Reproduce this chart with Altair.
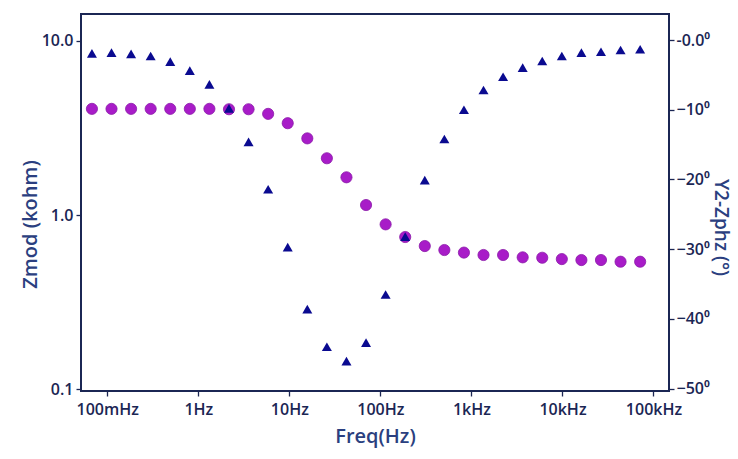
import altair as alt
import pandas as pd

# Frequency (Hz)
freq = [0.0679, 0.1114, 0.1828, 0.2999, 0.4921, 0.8075, 1.325, 2.174, 3.567, 5.853,
        9.603, 15.76, 25.85, 42.42, 69.60, 114.2, 187.4, 307.5, 504.5, 827.8,
        1358, 2228, 3656, 5998, 9842, 16150, 26500, 43470, 71330]
# Impedance modulus (kohm)
zmod = [4.06, 4.06, 4.06, 4.06, 4.06, 4.06, 4.06, 4.04, 4.04, 3.80,
        3.36, 2.75, 2.115, 1.645, 1.141, 0.884, 0.748, 0.664, 0.630, 0.609,
        0.590, 0.590, 0.572, 0.569, 0.559, 0.552, 0.552, 0.540, 0.540]
# Phase (degrees)
zphz = [-1.91, -1.82, -2.0, -2.3, -3.1, -4.4, -6.36, -9.8, -14.6, -21.4,
        -29.7, -38.6, -44.0, -46.05, -43.4, -36.5, -28.2, -20.1, -14.2, -10.0,
        -7.17, -5.27, -3.97, -3.01, -2.30, -1.82, -1.68, -1.43, -1.33]

xticks = [0.1, 1, 10, 100, 1000, 10000, 100000]
yticks_left = [0.1, 1, 10]
yticks_right = [0, -10, -20, -30, -40, -50]

df = pd.DataFrame({"freq": freq, "zmod": zmod, "zphz": zphz})

LABEL = "#1b2654"
TITLE = "#2b3f80"
FONT = "Open Sans"

xenc = alt.X("freq:Q",
             scale=alt.Scale(type="log", domain=[0.0515, 148000], nice=False),
             axis=alt.Axis(values=xticks, title="Freq(Hz)",
                           labelExpr="datum.value >= 1000 ? format(datum.value/1000,'d') + 'kHz' : (datum.value < 1 ? format(datum.value*1000,'d') + 'mHz' : format(datum.value,'d') + 'Hz')",
                           titlePadding=9, labelPadding=5))

circles = alt.Chart(df).mark_point(shape="circle", filled=True, size=125, opacity=1,
                                   color="#a81cc8", stroke="#8a1aa8", strokeWidth=0.8).encode(
    x=xenc,
    y=alt.Y("zmod:Q",
            scale=alt.Scale(type="log", domain=[0.098, 14.2], nice=False),
            axis=alt.Axis(values=yticks_left, format=".1f", title="Zmod (kohm)",
                          orient="left", titleX=-41, titleY=210, labelPadding=3))
)

tris = alt.Chart(df).mark_point(shape="triangle-up", filled=True, size=100, opacity=1,
                                color="#0a0a90").encode(
    x=xenc,
    y=alt.Y("zphz:Q",
            scale=alt.Scale(domain=[-50.34, 3.73], nice=False, zero=False),
            axis=alt.Axis(values=yticks_right, title="Y2-Zphz (°)", orient="right",
                          labelExpr="datum.value == 0 ? '-0.0⁰' : format(datum.value,'d') + '⁰'",
                          titleX=41, titleY=213, titleFontSize=19, labelPadding=2))
)

chart = alt.layer(circles, tris).resolve_scale(y="independent").properties(
    width=588, height=377,
    autosize=alt.AutoSizeParams(type="none"),
    padding={"left": 81, "top": 14, "right": 69, "bottom": 68},
    background="white",
).configure_view(
    stroke=LABEL, strokeWidth=2
).configure_axis(
    domain=False, grid=False,
    tickColor=LABEL, tickSize=5, tickWidth=1.3,
    labelColor=LABEL, labelFont=FONT, labelFontSize=16, labelFontWeight=600,
    titleColor=TITLE, titleFont=FONT, titleFontSize=20, titleFontWeight=600,
)

chart.save("out.html", embed_options={"renderer": "svg", "actions": False})
